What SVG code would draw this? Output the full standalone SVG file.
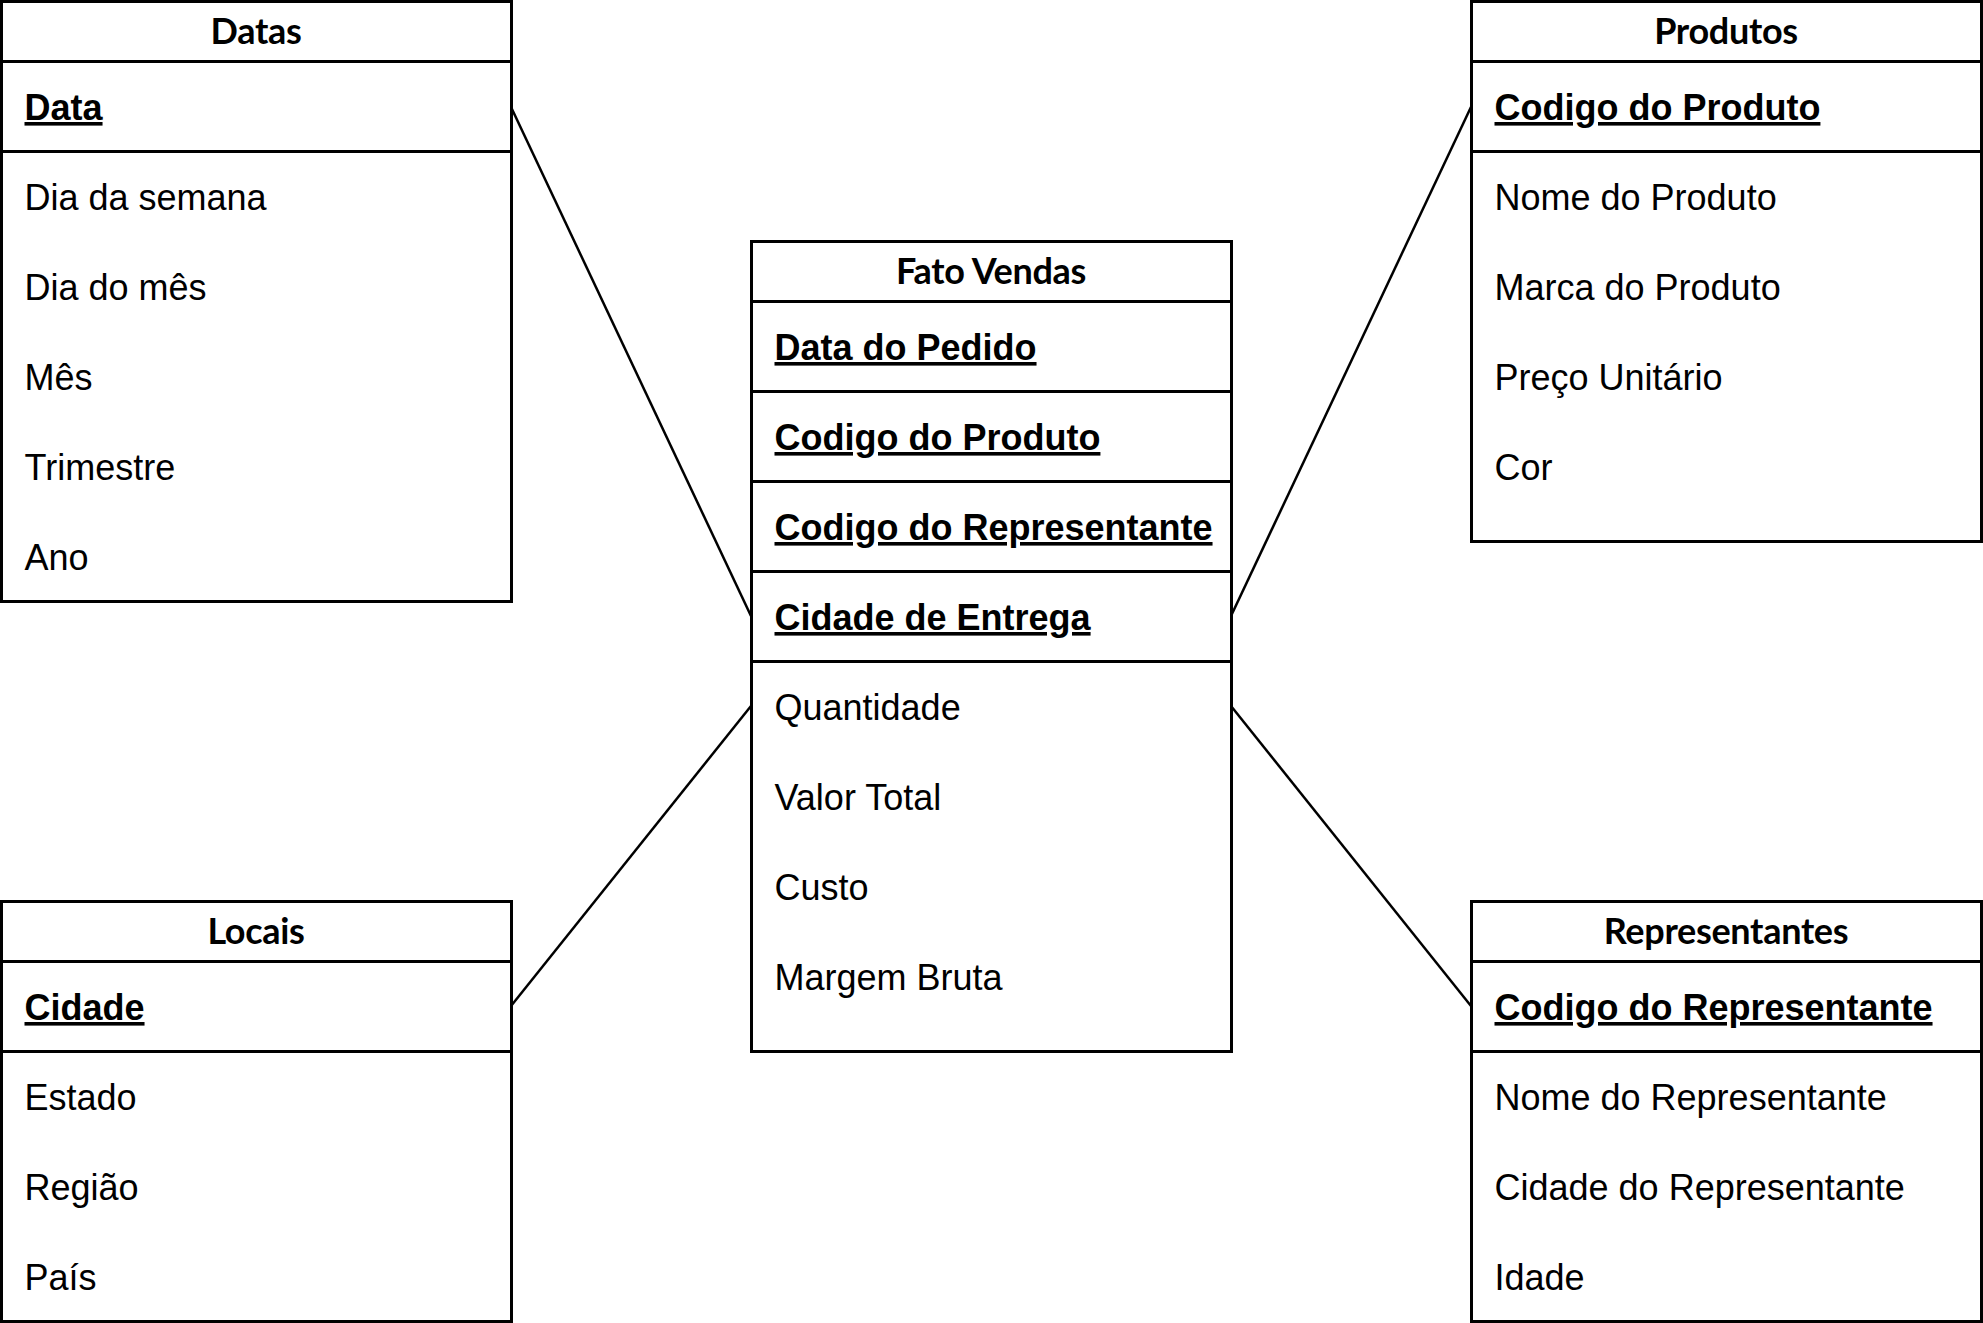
<svg xmlns="http://www.w3.org/2000/svg" width="1983" height="1323" viewBox="0 0 1983 1323">
<style>
.box{fill:#fff;stroke:#000;stroke-width:3}
.sep{stroke:#000;stroke-width:3}
.title{font-family:Lato,"Liberation Sans",sans-serif;font-weight:bold;font-size:36px;text-anchor:middle;fill:#000;letter-spacing:-0.3px}
.key{font-family:"Liberation Sans",Arial,sans-serif;font-weight:bold;font-size:36px;text-decoration:underline;fill:#000}
.attr{font-family:"Liberation Sans",Arial,sans-serif;font-size:36px;fill:#000}
.conn{stroke:#000;stroke-width:2.5;fill:none}
</style>
<rect width="1983" height="1323" fill="#fff"/>
<g id="connectors">
<line class="conn" x1="511" y1="107" x2="751" y2="616"/>
<line class="conn" x1="1471" y1="107" x2="1231" y2="616"/>
<line class="conn" x1="511" y1="1006" x2="751" y2="706"/>
<line class="conn" x1="1471" y1="1006" x2="1231" y2="706"/>
</g>
<g id="datas">
<rect class="box" x="1.5" y="1.5" width="510" height="600"/>
<line class="sep" x1="1.5" y1="61.5" x2="511.5" y2="61.5"/>
<line class="sep" x1="1.5" y1="151.5" x2="511.5" y2="151.5"/>
<text class="title" x="256" y="44">Datas</text>
<text class="key" x="24.5" y="120">Data</text>
<text class="attr" x="24.5" y="210">Dia da semana</text>
<text class="attr" x="24.5" y="300">Dia do mês</text>
<text class="attr" x="24.5" y="390">Mês</text>
<text class="attr" x="24.5" y="480">Trimestre</text>
<text class="attr" x="24.5" y="570">Ano</text>
</g>
<g id="produtos">
<rect class="box" x="1471.5" y="1.5" width="510" height="540"/>
<line class="sep" x1="1471.5" y1="61.5" x2="1981.5" y2="61.5"/>
<line class="sep" x1="1471.5" y1="151.5" x2="1981.5" y2="151.5"/>
<text class="title" x="1726" y="44">Produtos</text>
<text class="key" x="1494.5" y="120">Codigo do Produto</text>
<text class="attr" x="1494.5" y="210">Nome do Produto</text>
<text class="attr" x="1494.5" y="300">Marca do Produto</text>
<text class="attr" x="1494.5" y="390">Preço Unitário</text>
<text class="attr" x="1494.5" y="480">Cor</text>
</g>
<g id="fato-vendas">
<rect class="box" x="751.5" y="241.5" width="480" height="810"/>
<line class="sep" x1="751.5" y1="301.5" x2="1231.5" y2="301.5"/>
<line class="sep" x1="751.5" y1="391.5" x2="1231.5" y2="391.5"/>
<line class="sep" x1="751.5" y1="481.5" x2="1231.5" y2="481.5"/>
<line class="sep" x1="751.5" y1="571.5" x2="1231.5" y2="571.5"/>
<line class="sep" x1="751.5" y1="661.5" x2="1231.5" y2="661.5"/>
<text class="title" x="991" y="284">Fato Vendas</text>
<text class="key" x="774.5" y="360">Data do Pedido</text>
<text class="key" x="774.5" y="450">Codigo do Produto</text>
<text class="key" x="774.5" y="540">Codigo do Representante</text>
<text class="key" x="774.5" y="630">Cidade de Entrega</text>
<text class="attr" x="774.5" y="720">Quantidade</text>
<text class="attr" x="774.5" y="810">Valor Total</text>
<text class="attr" x="774.5" y="900">Custo</text>
<text class="attr" x="774.5" y="990">Margem Bruta</text>
</g>
<g id="locais">
<rect class="box" x="1.5" y="901.5" width="510" height="420"/>
<line class="sep" x1="1.5" y1="961.5" x2="511.5" y2="961.5"/>
<line class="sep" x1="1.5" y1="1051.5" x2="511.5" y2="1051.5"/>
<text class="title" x="256" y="944">Locais</text>
<text class="key" x="24.5" y="1020">Cidade</text>
<text class="attr" x="24.5" y="1110">Estado</text>
<text class="attr" x="24.5" y="1200">Região</text>
<text class="attr" x="24.5" y="1290">País</text>
</g>
<g id="representantes">
<rect class="box" x="1471.5" y="901.5" width="510" height="420"/>
<line class="sep" x1="1471.5" y1="961.5" x2="1981.5" y2="961.5"/>
<line class="sep" x1="1471.5" y1="1051.5" x2="1981.5" y2="1051.5"/>
<text class="title" x="1726" y="944">Representantes</text>
<text class="key" x="1494.5" y="1020">Codigo do Representante</text>
<text class="attr" x="1494.5" y="1110">Nome do Representante</text>
<text class="attr" x="1494.5" y="1200">Cidade do Representante</text>
<text class="attr" x="1494.5" y="1290">Idade</text>
</g>
</svg>
